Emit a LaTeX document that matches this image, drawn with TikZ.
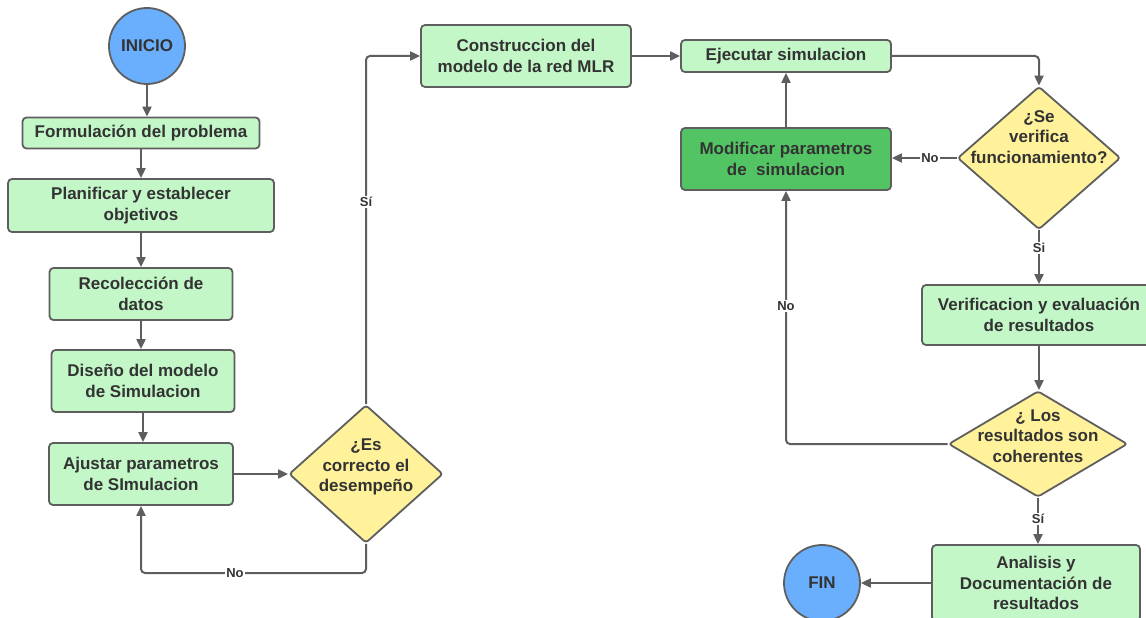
\documentclass[tikz,border=0pt]{standalone}
\usepackage{fontspec}
\setmainfont{Liberation Sans}
\usetikzlibrary{shapes.geometric,arrows.meta}
\definecolor{edge}{HTML}{5E5E5E}
\definecolor{boxfill}{HTML}{C3F7C8}
\definecolor{darkfill}{HTML}{53C463}
\definecolor{decfill}{HTML}{FFF29B}
\definecolor{termfill}{HTML}{6AAFFE}
\definecolor{ink}{HTML}{333333}

\begin{document}
\begin{tikzpicture}[x=1pt,y=-1pt,
  every node/.style={font=\fontsize{17}{20.5}\selectfont\bfseries, text=ink},
  box/.style={draw=edge, line width=1.8pt, rounded corners=4pt, fill=boxfill,
    align=center, inner sep=0pt},
  dbox/.style={box, fill=darkfill},
  term/.style={circle, draw=edge, line width=1.8pt, fill=termfill, inner sep=0pt,
    minimum size=76pt},
  dec/.style={diamond, draw=edge, line width=1.8pt, fill=decfill, inner sep=0pt,
    rounded corners=3pt},
  dtext/.style={align=center, inner sep=0pt},
  lbl/.style={fill=white, inner sep=1pt, font=\fontsize{13}{15}\selectfont\bfseries},
  conn/.style={draw=edge, line width=2pt, rounded corners=4pt,
    -{Triangle[length=10pt,width=9pt]}}
]
\useasboundingbox (0,0) rectangle (1146,618);
\clip (0,0) rectangle (1146,618);
\fill[white] (0,0) rectangle (1146,618);

% left column
\node[term] (ini) at (147,46) {INICIO};
\node[box, minimum width=237pt, minimum height=31pt] (form) at (141,133) {Formulación del problema};
\node[box, minimum width=266pt, minimum height=53pt] (plan) at (141,205.5) {Planificar y establecer\\objetivos};
\node[box, minimum width=183pt, minimum height=52pt] (rec) at (141,294) {Recolección de\\datos};
\node[box, minimum width=183pt, minimum height=62pt] (dis) at (143,381) {Diseño del modelo\\de Simulacion};
\node[box, minimum width=184pt, minimum height=62pt] (aju) at (141,474) {Ajustar parametros\\de SImulacion};

\node[dec, minimum width=154pt, minimum height=138pt] (d1) at (366,474) {};
\node[dtext] (d1t) at (366,467) {¿Es\\correcto el\\desempeño};

% top row
\node[box, minimum width=210pt, minimum height=62pt] (con) at (526,56) {Construccion del\\modelo de la red MLR};
\node[box, minimum width=210pt, minimum height=32pt] (eje) at (786,56) {Ejecutar simulacion};
\node[dbox, minimum width=210pt, minimum height=62pt] (mod) at (786,159) {Modificar parametros\\de\ \ simulacion};

% right column
\node[dec, minimum width=163pt, minimum height=143pt] (d2) at (1039,158) {};
\node[dtext] (d2t) at (1039,137) {¿Se\\verifica\\funcionamiento?};
\node[box, minimum width=234pt, minimum height=60pt] (ver) at (1039,315) {Verificacion y evaluación\\de resultados};
\node[dec, minimum width=179pt, minimum height=106pt] (d3) at (1038,444) {};
\node[dtext] (d3t) at (1038,436) {¿ Los\\resultados son\\coherentes};
\node[box, minimum width=208pt, minimum height=76pt] (ana) at (1036,583) {Analisis y\\Documentación de\\resultados};
\node[term] (fin) at (822,583) {FIN};

% connectors, left column
\draw[conn] (ini.south) -- (ini.south |- form.north);
\draw[conn] (form.south) -- (form.south |- plan.north);
\draw[conn] (plan.south) -- (plan.south |- rec.north);
\draw[conn] (rec.south) -- (rec.south |- dis.north);
\draw[conn] (dis.south) -- (dis.south |- aju.north);
\draw[conn] (aju.east) -- (aju.east -| d1.west);
\coordinate (lowturn) at (366,573);
\draw[conn] (d1.south) -- (lowturn) -| (aju.south);
\draw[conn] (d1.north) |- (con.west);
\node[lbl] (lsi1) at (366,202) {Sí};
\node[lbl] (lno1) at (235,573) {No};

% connectors, top row and right column
\draw[conn] (con.east) -- (con.east -| eje.west);
\draw[conn] (eje.east) -| (d2.north);
\draw[conn] (d2.west) -- (d2.west -| mod.east);
\node[lbl] (lno2) at (930,158) {No};
\draw[conn] (mod.north) -- (eje.south);
\draw[conn] (d2.south) -- (d2.south |- ver.north);
\node[lbl] (lsi2) at (1039,248) {Si};
\draw[conn] (ver.south) -- (ver.south |- d3.north);
\draw[conn] (d3.west) -| (mod.south);
\node[lbl] (lno3) at (786,306) {No};
\draw[conn] (d3.south) -- (d3.south |- ana.north);
\node[lbl] (lsi3) at (1038,519) {Sí};
\draw[conn] (ana.west) -- (ana.west -| fin.east);
\end{tikzpicture}
\end{document}
